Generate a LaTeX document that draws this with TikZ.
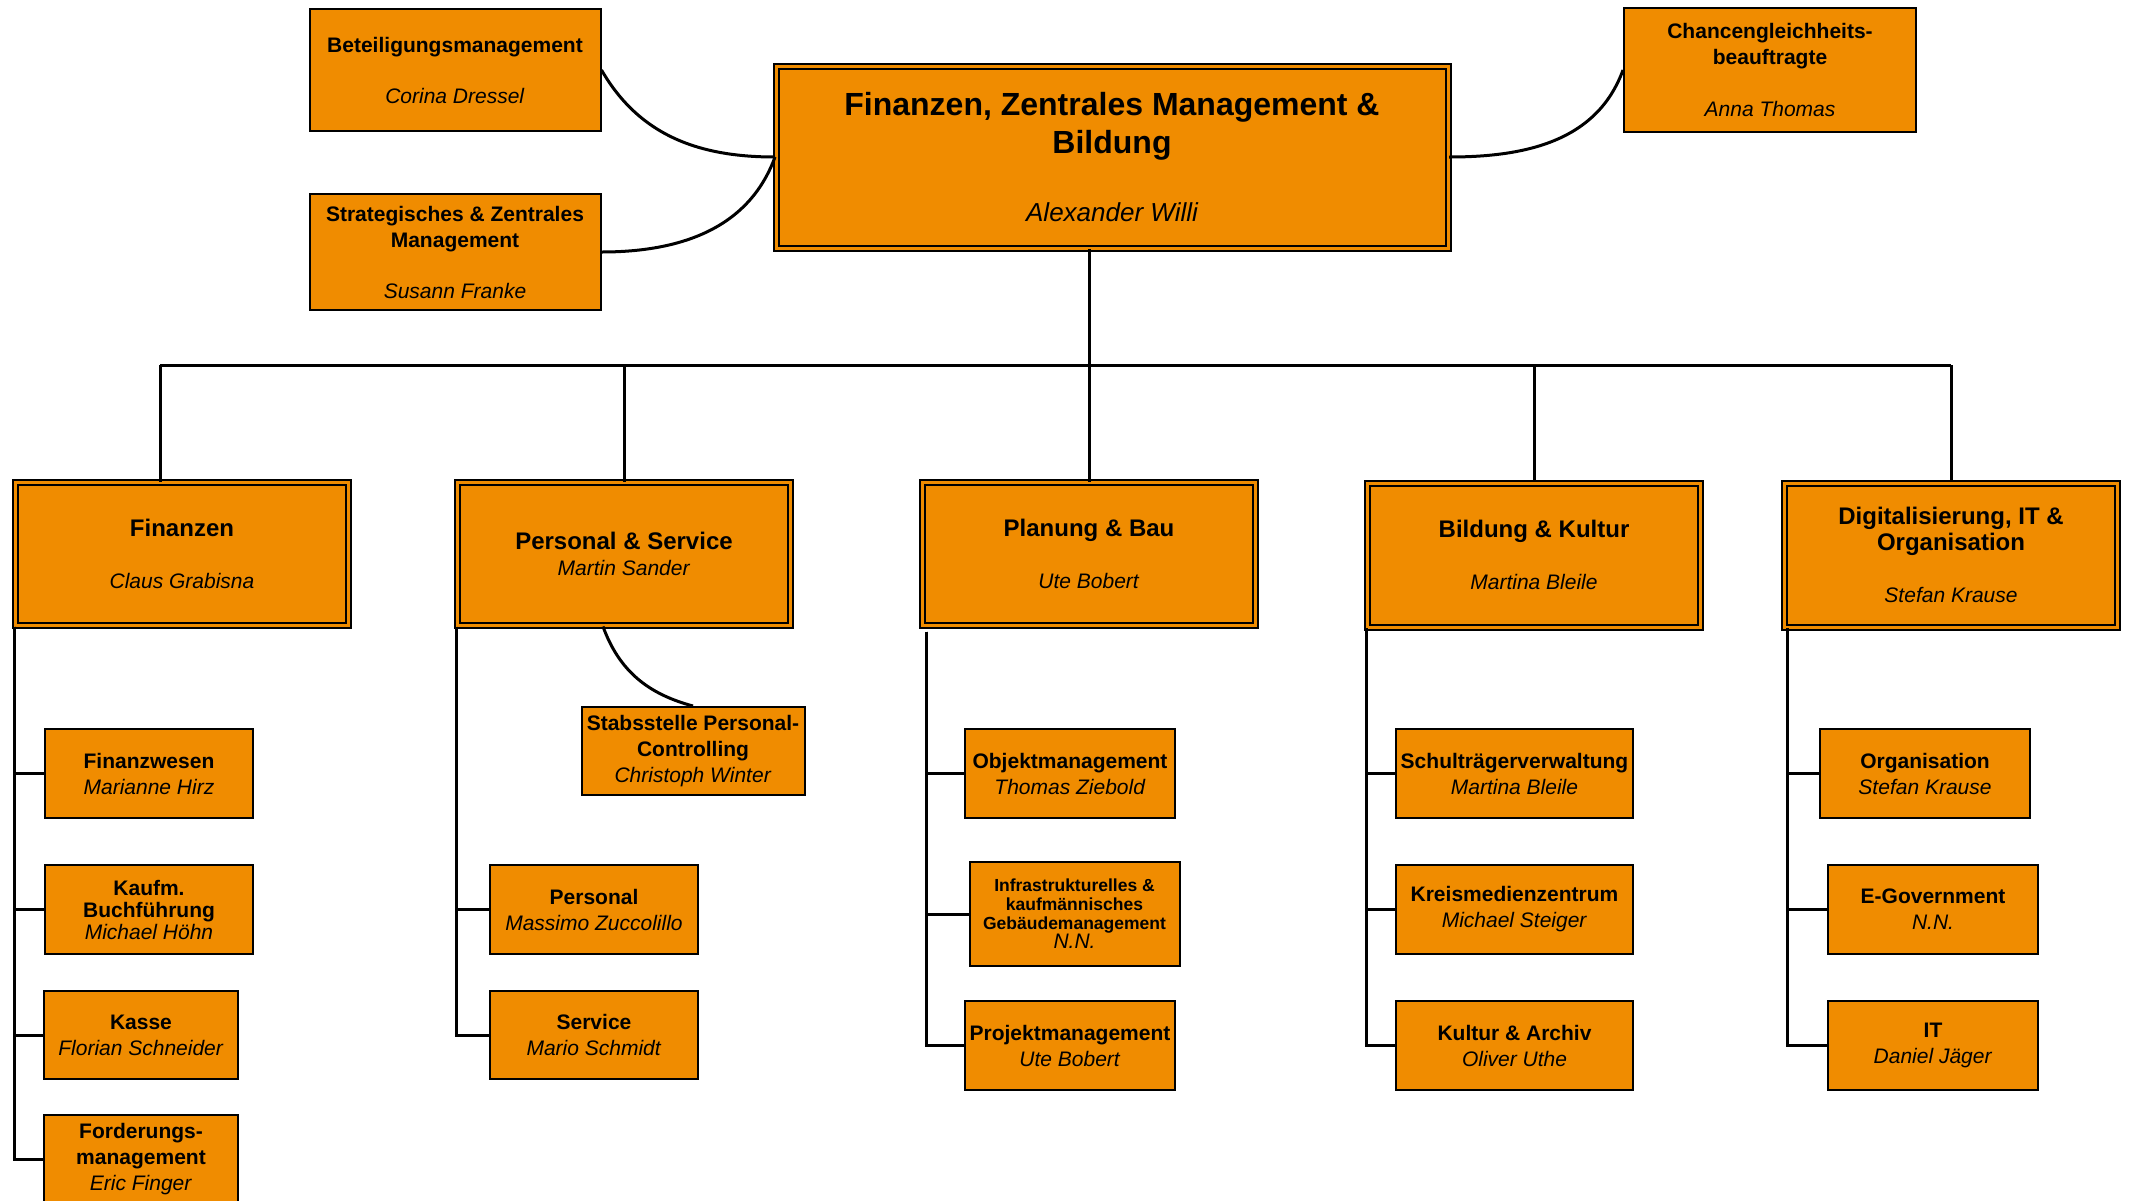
\documentclass[tikz,border=0pt]{standalone}
\usepackage{fontspec}
\setmainfont{Liberation Sans}
\usepackage{tikz}
\usetikzlibrary{calc}
\definecolor{orgfill}{RGB}{240,140,0}

\begin{document}
\begin{tikzpicture}[x=1pt, y=-1pt]
    \tikzstyle{unit} = [draw, fill=orgfill, line width=2pt, text centered, align=center, inner sep=0pt, font=\fontsize{21}{26}\selectfont]
    \tikzstyle{head} = [unit, line width=2pt, double=orgfill, double distance=3pt]
    \tikzstyle{link} = [line width=3pt]
    \useasboundingbox (0,0) rectangle (2130,1200);
    % top level
    \node [head, minimum width=672pt, minimum height=182pt, font=\fontsize{32}{38}\selectfont] at (1112,157) (main) {\textbf{Finanzen, Zentrales Management \&}\\\textbf{Bildung}\\[30pt]{\fontsize{26}{30}\selectfont\itshape Alexander Willi}};
    \node [unit, minimum width=291pt, minimum height=122pt] at (455,70) (bet) {\textbf{Beteiligungsmanagement}\\[25pt]\textit{Corina Dressel}};
    \node [unit, minimum width=291pt, minimum height=116pt] at (455,252) (strat) {\textbf{Strategisches \& Zentrales}\\\textbf{Management}\\[25pt]\textit{Susann Franke}};
    \node [unit, minimum width=292pt, minimum height=124pt] at (1770,70) (chanc) {\textbf{Chancengleichheits-}\\\textbf{beauftragte}\\[26pt]\textit{Anna Thomas}};
    \draw[link] (bet.east) to[out=-60, in=180] (main.west);
    \draw[link] (strat.east) to[out=0, in=-110] (main.west);
    \draw[link] (main.east) to[out=0, in=-110] (chanc.west);
    % departments
    \node [head, minimum width=333pt, minimum height=143pt] at (182,554) (fin) {{\fontsize{24}{26}\selectfont\bfseries Finanzen}\\[26pt]\textit{Claus Grabisna}};
    \node [head, minimum width=333pt, minimum height=143pt] at (624,554) (pers) {{\fontsize{24}{26}\selectfont\bfseries Personal \& Service}\\\textit{Martin Sander}};
    \node [head, minimum width=333pt, minimum height=143pt] at (1089,554) (plan) {{\fontsize{24}{26}\selectfont\bfseries Planung \& Bau}\\[26pt]\textit{Ute Bobert}};
    \node [head, minimum width=333pt, minimum height=144pt] at (1534,555) (bild) {{\fontsize{24}{26}\selectfont\bfseries Bildung \& Kultur}\\[26pt]\textit{Martina Bleile}};
    \node [head, minimum width=333pt, minimum height=144pt] at (1951,555) (digi) {{\fontsize{24}{26}\selectfont\bfseries Digitalisierung, IT \&}\\{\fontsize{24}{26}\selectfont\bfseries Organisation}\\[26pt]\textit{Stefan Krause}};
    \coordinate (bus) at (0,365);
    \coordinate (fintop) at ($(fin.north)+(-22,0)$);
    \draw[link] (plan.north |- main.south) -- (plan.north);
    \draw[link] (fintop |- bus) -- (digi.north |- bus);
    \draw[link] (fintop |- bus) -- (fintop);
    \draw[link] (pers.north |- bus) -- (pers.north);
    \draw[link] (bild.north |- bus) -- (bild.north);
    \draw[link] (digi.north |- bus) -- (digi.north);
    % Finanzen
    \node [unit, minimum width=208pt, minimum height=89pt] at (149,773.5) (fwesen) {\textbf{Finanzwesen}\\\textit{Marianne Hirz}};
    \node [unit, minimum width=208pt, minimum height=89pt] at (149,909.5) (kaufm) {\textbf{Kaufm.}\\[-4pt]\textbf{Buchführung}\\[-4pt]\textit{Michael Höhn}};
    \node [unit, minimum width=194pt, minimum height=88pt] at (141,1035) (kasse) {\textbf{Kasse}\\\textit{Florian Schneider}};
    \node [unit, minimum width=194pt, minimum height=88pt] at (141,1159) (ford) {\textbf{Forderungs-}\\\textbf{management}\\\textit{Eric Finger}};
    \draw[link] (fin.south west) |- (fwesen.west);
    \draw[link] (fin.south west) |- (kaufm.west);
    \draw[link] (fin.south west) |- (kasse.west);
    \draw[link] (fin.south west) |- (ford.west);
    % Personal & Service
    \node [unit, minimum width=223pt, minimum height=88pt] at (693,751) (stab) {\textbf{Stabsstelle Personal-}\\\textbf{Controlling}\\\textit{Christoph Winter}};
    \node [unit, minimum width=208pt, minimum height=89pt] at (594,909.5) (personal) {\textbf{Personal}\\\textit{Massimo Zuccolillo}};
    \node [unit, minimum width=208pt, minimum height=88pt] at (594,1035) (service) {\textbf{Service}\\\textit{Mario Schmidt}};
    \coordinate (perslink) at ($(pers.south)+(-21,0)$);
    \draw[link] (perslink) to[out=-70, in=165] (stab.north);
    \draw[link] (pers.south west) |- (personal.west);
    \draw[link] (pers.south west) |- (service.west);
    % Planung & Bau
    \node [unit, minimum width=210pt, minimum height=89pt] at (1070,773.5) (objekt) {\textbf{Objektmanagement}\\\textit{Thomas Ziebold}};
    \node [unit, minimum width=210pt, minimum height=104pt, font=\fontsize{17.5}{19}\selectfont] at (1074.5,914) (infra) {\textbf{Infrastrukturelles \&}\\\textbf{kaufmännisches}\\\textbf{Gebäudemanagement}\\{\fontsize{21}{21}\selectfont\itshape N.N.}};
    \node [unit, minimum width=210pt, minimum height=89pt] at (1070,1045.5) (projekt) {\textbf{Projektmanagement}\\\textit{Ute Bobert}};
    \coordinate (planline) at ($(plan.south west)+(5,5)$);
    \draw[link] (planline) |- (objekt.west);
    \draw[link] (planline) |- (infra.west);
    \draw[link] (planline) |- (projekt.west);
    % Bildung & Kultur
    \node [unit, minimum width=237pt, minimum height=89pt] at (1514.5,773.5) (schul) {\textbf{Schulträgerverwaltung}\\\textit{Martina Bleile}};
    \node [unit, minimum width=237pt, minimum height=89pt] at (1514.5,909.5) (kreis) {\textbf{Kreismedienzentrum}\\\textit{Michael Steiger}};
    \node [unit, minimum width=237pt, minimum height=89pt] at (1514.5,1045.5) (kultur) {\textbf{Kultur \& Archiv}\\\textit{Oliver Uthe}};
    \draw[link] (bild.south west) |- (schul.west);
    \draw[link] (bild.south west) |- (kreis.west);
    \draw[link] (bild.south west) |- (kultur.west);
    % Digitalisierung, IT & Organisation
    \node [unit, minimum width=210pt, minimum height=89pt] at (1925,773.5) (orga) {\textbf{Organisation}\\\textit{Stefan Krause}};
    \node [unit, minimum width=210pt, minimum height=89pt] at (1933,909.5) (egov) {\textbf{E-Government}\\\textit{N.N.}};
    \node [unit, minimum width=210pt, minimum height=89pt] at (1933,1045.5) (it) {\textbf{IT}\\\textit{Daniel Jäger}};
    \coordinate (digiline) at ($(digi.south west)+(4,0)$);
    \draw[link] (digiline) |- (orga.west);
    \draw[link] (digiline) |- (egov.west);
    \draw[link] (digiline) |- (it.west);
\end{tikzpicture}
\end{document}
